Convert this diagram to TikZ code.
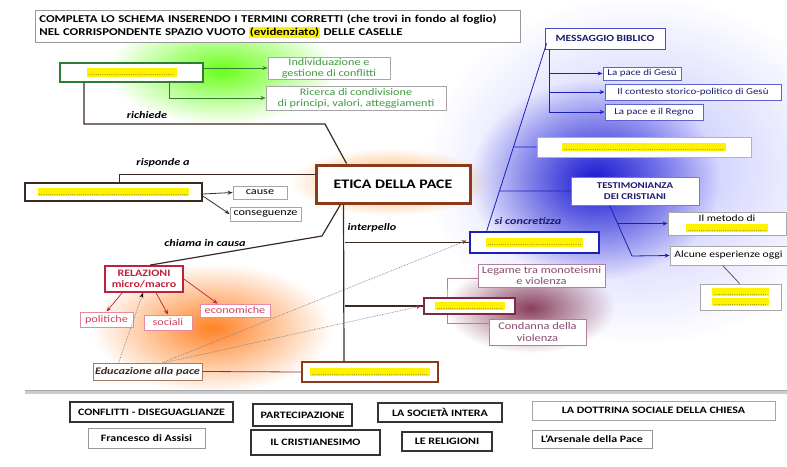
\documentclass[tikz,border=0pt]{standalone}
\usepackage{fontspec}
\setmainfont{Carlito}[FakeStretch=1.22]
\usetikzlibrary{arrows.meta,calc,fadings}
\definecolor{gbord}{HTML}{2E7D32}
\definecolor{gtext}{HTML}{3E9A3E}
\definecolor{brownb}{HTML}{8B3A1A}
\definecolor{darkln}{HTML}{3A2A22}
\definecolor{redb}{HTML}{C0203A}
\definecolor{redt}{HTML}{D04060}
\definecolor{blueb}{HTML}{1A20B8}
\definecolor{navy}{HTML}{1A1A70}
\definecolor{purb}{HTML}{7B2A4A}
\definecolor{purt}{HTML}{8A4A70}
\tikzfading[name=glowfade, inner color=transparent!0, outer color=transparent!100]
\setlength{\fboxsep}{1pt}
\newcommand{\blank}[1]{\colorbox{yellow}{\rule{0pt}{6.5pt}\makebox[#1]{\fontsize{5}{5}\selectfont\dotfill}}}
\newcommand{\fs}[2]{\fontsize{#1}{#2}\selectfont}
\tikzset{
  box/.style={draw=gray!70, fill=white, inner sep=1pt, align=center, font=\fs{10}{11}, line width=0.8pt},
  lbl/.style={font=\fs{10}{11}\bfseries\itshape, inner sep=0pt},
  word/.style={draw=black!80, fill=white, inner sep=1pt, font=\fs{9.8}{11}\bfseries},
  tip/.style={-{Stealth[length=5pt,width=4pt]}},
  conn/.style={darkln, line width=1.2pt},
}
\begin{document}
\begin{tikzpicture}[x=1pt,y=-1pt]
\useasboundingbox (0,0) rectangle (787,466);
% glows
\fill[green!65!yellow, opacity=0.9, path fading=glowfade] (222,70) ellipse (115 and 55);
\fill[orange!85!red, opacity=0.85, path fading=glowfade] (212,328) ellipse (120 and 65);
\fill[blue!25, path fading=glowfade] (640,170) ellipse (215 and 175);
\fill[blue!80!black!90, path fading=glowfade] (595,180) ellipse (125 and 100);
\fill[purb!90, path fading=glowfade] (530,308) ellipse (85 and 45);
\fill[orange!70, path fading=glowfade] (390,182) ellipse (100 and 34);

% title
\node[draw=gray!80, line width=0.8pt, fill=white, anchor=north west, minimum width=485, minimum height=32, text width=477, align=left, inner sep=3pt, font=\fs{10.5}{13}\bfseries] (title) at (35,10)
 {COMPLETA LO SCHEMA INSERENDO I TERMINI CORRETTI (che trovi in fondo al foglio)\\NEL CORRISPONDENTE SPAZIO VUOTO \colorbox{yellow}{(evidenziato)} DELLE CASELLE};

% green part
\node[draw=gbord, line width=2pt, fill=white, minimum width=143, minimum height=19, inner sep=0pt] (G1) at (131.5,72.5) {\blank{88pt}};
\node[box, text=gtext, minimum width=122, minimum height=22, font=\fs{10}{11}] (Ind) at (329,68) {Individuazione e\\gestione di conflitti};
\node[box, text=gtext, minimum width=180, minimum height=24, font=\fs{10}{11}] (Ric) at (356,98) {Ricerca di condivisione\\di principi, valori, atteggiamenti};
\draw[tip, gbord, line width=0.8pt] (G1.east |- Ind) -- (Ind.west);
\draw[tip, gbord, line width=0.8pt] ($(G1.south west)+(110,0)$) |- (Ric.west);

% ETICA
\node[draw=brownb, line width=3pt, fill=white, minimum width=154, minimum height=38, font=\fs{13}{15}\bfseries] (E) at (393,184) {ETICA DELLA PACE};

\coordinate (rq) at (325,124);
\draw[conn] ($(G1.south west)+(25,0)$) |- (rq) -- ($(E.north west)+(32,0)$);
\node[lbl] (richiede) at (147,115) {richiede};

% left blank
\node[draw=darkln, line width=1.5pt, fill=white, minimum width=177, minimum height=18, inner sep=0pt] (L1) at (113.5,192) {\blank{150pt}};
\draw[conn] ($(L1.north west)+(95,0)$) |- ($(E.north west)+(0,11)$);
\node[lbl] (risp) at (163,163) {risponde a};
\node[box, minimum width=54, minimum height=13] (cause) at (260,192.5) {cause};
\node[box, minimum width=71, minimum height=14] (cons) at (265.5,214) {conseguenze};
\draw[tip, darkln, line width=0.8pt] ($(L1.east)+(0,2)$) -- (cause.west);
\draw[tip, darkln, line width=0.8pt] ($(L1.east)+(0,4)$) -- (cons.west);

% relazioni
\node[draw=redb, line width=1.8pt, fill=white, minimum width=78, minimum height=26, inner sep=1pt, align=center, text=redb, font=\fs{9.8}{11.5}\bfseries] (Rel) at (144,279) {RELAZIONI\\micro/macro};
\coordinate (ch) at (322,236);
\draw[conn] ($(E.south west)+(26,0)$) -- (ch) -- ($(Rel.north)+(6,0)$);
\node[lbl] (chiama) at (205,243) {chiama in causa};
\node[box, draw=redt!60, text=redt, minimum width=53, minimum height=15] (pol) at (106.5,319.5) {politiche};
\node[box, draw=redt!60, text=redt, minimum width=48, minimum height=15] (soc) at (168,322.5) {sociali};
\node[box, draw=redt!60, text=redt, minimum width=70, minimum height=13] (eco) at (235,310.5) {economiche};
\draw[tip, redb, line width=0.7pt] ($(Rel.south west)+(18,0)$) -- (pol.north);
\draw[tip, redb, line width=0.7pt] ($(Rel.south west)+(52,0)$) -- (soc.north);
\draw[tip, redb, line width=0.7pt] (Rel.east) -- ($(eco.north west)+(18,0)$);

% interpello trunk
\node[draw=brownb, line width=2pt, fill=white, minimum width=136, minimum height=20, inner sep=0pt] (B1) at (370,372) {\blank{118pt}};
\draw[conn] ($(E.south west)+(29,0)$) -- ($(B1.north west)+(43,0)$);
\coordinate (trunk) at (345,300);
\node[lbl] (interp) at (372,228) {interpello};

% educazione
\node[box, draw=brownb!70, text=darkln, minimum width=109, minimum height=17, font=\fs{10}{11}\bfseries\itshape] (Edu) at (147.5,371.5) {Educazione alla pace};
\draw[brownb, line width=0.8pt] (Edu.east) -- (B1.west);

% blue box si concretizza
\node[draw=blueb, line width=2.5pt, fill=white, minimum width=129, minimum height=21, inner sep=0pt] (SC) at (534.5,242.5) {\blank{95pt}};
\node[lbl, text=navy] (sic) at (528,221) {si concretizza};
\draw[conn] (trunk |- SC.west) -- (SC.west);

% religion part
\node[box, text=purt, draw=purt!70, minimum width=127, minimum height=23, font=\fs{10.2}{11.5}] (Leg) at (541.5,275.5) {Legame tra monoteismi\\e violenza};
\node[box, text=purt, draw=purt!70, minimum width=97, minimum height=26, font=\fs{10.2}{11.5}] (Cond) at (537.5,332) {Condanna della\\violenza};
\coordinate (brk) at (447,300);
\draw[purt!70, line width=0.8pt] (Leg.west |- 0,278) -| (brk) |- ($(Cond.north west)+(0,5)$);
\node[draw=purb, line width=1.8pt, fill=white, minimum width=91, minimum height=16, inner sep=0pt] (R) at (469.5,306) {\blank{68pt}};
\draw[conn] (trunk |- R.west) -- (R.west);

% dotted arrows from educazione
\draw[densely dotted, gray, line width=0.7pt, -{Stealth[length=5pt,width=4pt,black]}] ($(Edu.north west)+(26,0)$) -- ($(Rel.south)+(-1,0)$);
\draw[densely dotted, gray, line width=0.7pt, -{Stealth[length=5pt,width=4pt,brownb]}] ($(Edu.north west)+(70,0)$) -- ($(SC.west)+(-2,-2)$);
\draw[densely dotted, gray, line width=0.7pt, -{Stealth[length=5pt,width=4pt,redb]}] ($(Edu.north west)+(72,0)$) -- ($(R.west)+(-2,0)$);

% messaggio biblico
\node[box, draw=blueb!80, text=navy, minimum width=120, minimum height=21, font=\fs{9.4}{10}\bfseries] (M) at (605,38.5) {MESSAGGIO BIBLICO};
\node[box, draw=blueb!70, text=navy, minimum width=78, minimum height=13, font=\fs{9}{9.5}] (pg) at (642,73.5) {La pace di Gesù};
\node[box, draw=blueb!70, text=navy, minimum width=176, minimum height=16, font=\fs{9}{9.5}] (ctx) at (693,92) {Il contesto storico-politico di Gesù};
\node[box, draw=blueb!70, text=navy, minimum width=98, minimum height=16, font=\fs{9}{9.5}] (reg) at (654,112) {La pace e il Regno};
\coordinate (mv) at ($(M.south west)+(5,0)$);
\draw[tip, blueb, line width=0.8pt] (mv) |- (pg.west);
\draw[tip, blueb, line width=0.8pt] (mv) |- (ctx.west);
\draw[tip, blueb, line width=0.8pt] (mv) |- (reg.west);

\node[box, draw=gray!60, minimum width=214, minimum height=20] (Mb) at (644,147) {\blank{162pt}};
\node[box, draw=blueb!60, text=navy, minimum width=128, minimum height=28, font=\fs{8.9}{10.5}\bfseries] (T) at (635,191) {TESTIMONIANZA\\DEI CRISTIANI};
\coordinate (la) at ($(M.south west)+(2,-6)$);
\coordinate (lb) at ($(SC.north west)+(18,0)$);
\draw[blueb, line width=0.8pt] (la) -- (lb);
\draw[blueb, line width=0.8pt] (intersection of la--lb and Mb.west--Mb.east) -- (Mb.west);
\draw[blueb, line width=0.8pt] (intersection of la--lb and T.west--T.east) -- (T.west);

\node[box, draw=gray!70, minimum width=118, minimum height=23, font=\fs{9.5}{10}] (Met) at (727,223.5) {Il metodo di\\\blank{80pt}};
\node[box, draw=gray!70, minimum width=117, minimum height=19, font=\fs{9.5}{10}] (Alc) at (728.5,255.5) {Alcune esperienze oggi};
\coordinate (ta) at ($(T.south west)+(39,0)$);
\coordinate (tb) at (632,256);
\draw[blueb, line width=0.8pt] (ta) -- (tb);
\draw[tip, blueb, line width=0.8pt] (tb) -- (Alc.west);
\draw[tip, blueb, line width=0.8pt] (intersection of ta--tb and Met.west--Met.east) -- (Met.west);
\node[box, draw=gray!70, minimum width=81, minimum height=26, inner sep=1pt] (S) at (740.5,297) {\blank{55pt}\\[-1pt]\blank{55pt}};
\draw[darkln!80, line width=0.8pt] ($(Alc.south west)+(53,0)$) -- ($(S.north west)+(40,0)$);

% separator
\draw[gray!40, line width=3pt] (25,392) -- (787,392);
\draw[gray!70, line width=0.6pt] (25,390.5) -- (787,390.5);

% word bank
\node[word, line width=1.5pt, minimum width=163, minimum height=20] (w1) at (151.5,412) {CONFLITTI - DISEGUAGLIANZE};
\node[word, line width=1.5pt, minimum width=99, minimum height=22] (w2) at (302.5,415) {PARTECIPAZIONE};
\node[word, line width=1.8pt, minimum width=124, minimum height=19] (w3) at (440,412.5) {LA SOCIETÀ INTERA};
\node[word, draw=gray!70, line width=0.8pt, minimum width=243, minimum height=19] (w4) at (653.5,410.5) {LA DOTTRINA SOCIALE DELLA CHIESA};
\node[word, draw=gray!80, line width=0.8pt, minimum width=117, minimum height=20] (w5) at (146.5,438) {Francesco di Assisi};
\node[word, line width=1.8pt, minimum width=129, minimum height=25] (w6) at (315.5,442.5) {IL CRISTIANESIMO};
\node[word, line width=1.8pt, minimum width=90, minimum height=19] (w7) at (447,441.5) {LE RELIGIONI};
\node[word, draw=gray!80, line width=0.8pt, minimum width=120, minimum height=18] (w8) at (592,439) {L'Arsenale della Pace};
\end{tikzpicture}
\end{document}
